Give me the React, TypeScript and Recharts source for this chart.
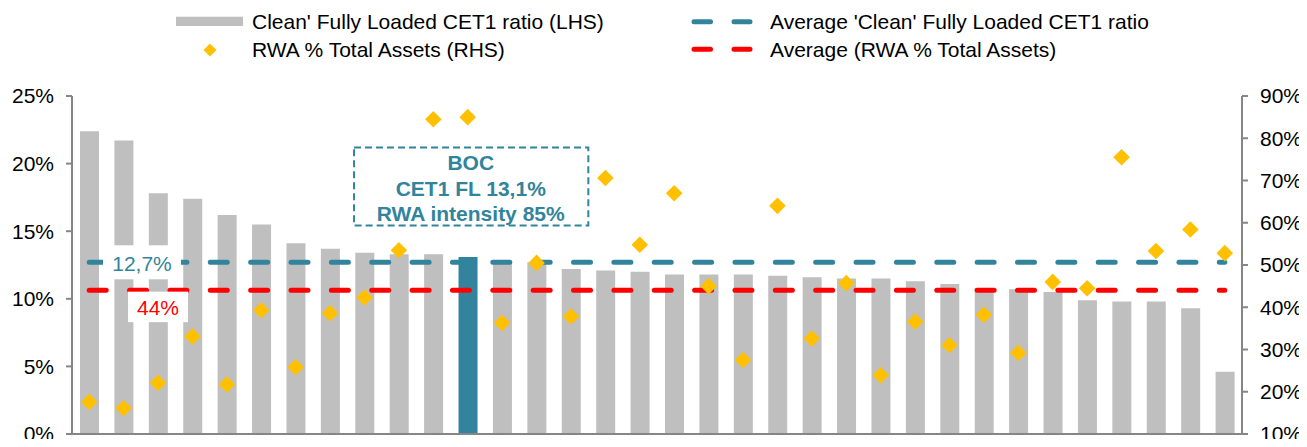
import { Bar, Cell, ComposedChart, Line, Scatter, XAxis, YAxis } from 'recharts';

// banks sorted by CET1 ratio, BOC highlighted
const banks = [
  'Bank 1', 'Bank 2', 'Bank 3', 'Bank 4', 'Bank 5', 'Bank 6', 'Bank 7', 'Bank 8',
  'Bank 9', 'Bank 10', 'Bank 11', 'BOC', 'Bank 13', 'Bank 14', 'Bank 15', 'Bank 16',
  'Bank 17', 'Bank 18', 'Bank 19', 'Bank 20', 'Bank 21', 'Bank 22', 'Bank 23', 'Bank 24',
  'Bank 25', 'Bank 26', 'Bank 27', 'Bank 28', 'Bank 29', 'Bank 30', 'Bank 31', 'Bank 32',
  'Bank 33', 'Bank 34',
];

const cet1Ratio = [
  22.4, 21.7, 17.8, 17.4, 16.2, 15.5, 14.1, 13.7, 13.4, 13.3, 13.3, 13.1, 12.8, 12.7,
  12.2, 12.1, 12.0, 11.8, 11.8, 11.8, 11.7, 11.6, 11.5, 11.5, 11.3, 11.1, 10.8, 10.7,
  10.5, 9.9, 9.8, 9.8, 9.3, 4.6,
];

const rwaShare = [
  17.6, 16.1, 22.1, 33.1, 21.7, 39.3, 25.8, 38.6, 42.3, 53.5, 84.5, 85.0, 36.3, 50.5,
  37.8, 70.6, 54.8, 67.0, 45.0, 27.5, 64.0, 32.6, 45.7, 23.9, 36.6, 31.0, 38.2, 29.2,
  46.0, 44.5, 75.5, 53.3, 58.4, 52.8,
];

const avgCet1 = 12.7;
const avgRwa = 44;

const leftTicks = [0, 5, 10, 15, 20, 25];
const rightTicks = [10, 20, 30, 40, 50, 60, 70, 80, 90];

const TEAL = '#31849B';
const GREY = '#BFBFBF';
const GOLD = '#FFC000';
const RED = '#FF0000';
const AXIS = '#868686';
const FONT = '"Liberation Sans", Arial, sans-serif';

const rows = banks.map((name, i) => ({
  name,
  cet1: cet1Ratio[i],
  rwa: rwaShare[i],
  avgCet1,
  avgRwa,
  cetTag: i === 2 ? avgCet1 : null,
  rwaTag: i === 2 ? avgRwa : null,
  bocTag: name === 'BOC' ? cet1Ratio[i] : null,
}));

const diamond = (props: any) => {
  const { cx, cy } = props;
  if (cx == null || cy == null) return <g />;
  const r = 8.3;
  return (
    <polygon
      points={`${cx},${cy - r} ${cx + r},${cy} ${cx},${cy + r} ${cx - r},${cy}`}
      fill={GOLD}
    />
  );
};

const cetTagShape = (props: any) => {
  const { cx, cy, payload } = props;
  if (!payload || payload.cetTag == null) return <g />;
  return (
    <g>
      <rect x={cx - 55} y={cy - 17} width={78} height={34} fill="#fff" />
      <text x={cx - 16} y={cy + 1.5} dy="0.355em" textAnchor="middle" fontSize={21} fill={TEAL}>
        12,7%
      </text>
    </g>
  );
};

const rwaTagShape = (props: any) => {
  const { cx, cy, payload } = props;
  if (!payload || payload.rwaTag == null) return <g />;
  return (
    <g>
      <rect x={cx - 30} y={cy + 1.3} width={60} height={30.5} fill="#fff" />
      <text x={cx} y={cy + 16.7} dy="0.355em" textAnchor="middle" fontSize={21} fill={RED}>
        44%
      </text>
    </g>
  );
};

const bocTagShape = (props: any) => {
  const { cx, cy, payload } = props;
  if (!payload || payload.bocTag == null) return <g />;
  const lines = ['BOC', 'CET1 FL 13,1%', 'RWA intensity 85%'];
  return (
    <g>
      <rect
        x={cx - 113.7}
        y={cy - 109.3}
        width={234.3}
        height={78}
        fill="none"
        stroke={TEAL}
        strokeWidth={2}
        strokeDasharray="7 4"
      />
      {lines.map((t, k) => (
        <text
          key={t}
          x={cx + 3}
          y={cy - 94.7 + k * 25.9}
          dy="0.355em"
          textAnchor="middle"
          fontSize={21}
          fontWeight="bold"
          fill={TEAL}
        >
          {t}
        </text>
      ))}
    </g>
  );
};

function TopLegend() {
  const text = { fontSize: 21, fill: '#000' };
  return (
    <svg
      width={1299}
      height={70}
      style={{ position: 'absolute', left: 0, top: 0, pointerEvents: 'none' }}
    >
      <rect x={168} y={8.7} width={67} height={9.3} fill={GREY} />
      <text x={244} y={21.3} {...text}>Clean' Fully Loaded CET1 ratio (LHS)</text>
      <polygon points="202,35.5 208.5,42 202,48.5 195.5,42" fill={GOLD} />
      <text x={244} y={48.7} {...text}>RWA % Total Assets (RHS)</text>

      <line x1={686} y1={13.7} x2={742} y2={13.7} stroke={TEAL} strokeWidth={5}
        strokeLinecap="round" strokeDasharray="16.5 23.5" />
      <text x={762} y={21.3} {...text}>Average 'Clean' Fully Loaded CET1 ratio</text>
      <line x1={686} y1={41.3} x2={742} y2={41.3} stroke={RED} strokeWidth={5}
        strokeLinecap="round" strokeDasharray="16.5 23.5" />
      <text x={762} y={48.7} {...text}>Average (RWA % Total Assets)</text>
    </svg>
  );
}

export default function App() {
  const tick = { fill: '#000', fontSize: 21, fontFamily: FONT };
  const axisLine = { stroke: AXIS, strokeWidth: 2 };
  return (
    <div style={{ position: 'relative', width: 1291, height: 431, fontFamily: FONT }}>
      <ComposedChart
        width={1299}
        height={439}
        data={rows}
        margin={{ top: 88, right: 0, bottom: 8, left: 0 }}
      >
        <XAxis dataKey="name" tick={false} tickLine={false} height={5} axisLine={axisLine} />
        <YAxis
          yAxisId="left"
          width={64}
          domain={[0, 25]}
          ticks={leftTicks}
          interval={0}
          tickFormatter={(v) => `${v}%`}
          tick={tick}
          tickSize={6}
          tickMargin={12}
          axisLine={axisLine}
          tickLine={axisLine}
        />
        <YAxis
          yAxisId="right"
          orientation="right"
          width={65}
          domain={[10, 90]}
          ticks={rightTicks}
          interval={0}
          tickFormatter={(v) => `${v}%`}
          tick={tick}
          tickSize={6}
          tickMargin={12}
          axisLine={axisLine}
          tickLine={axisLine}
        />
        <Bar yAxisId="left" dataKey="cet1" barSize={19} isAnimationActive={false}>
          {rows.map((r) => (
            <Cell key={r.name} fill={r.name === 'BOC' ? TEAL : GREY} />
          ))}
        </Bar>
        <Line
          yAxisId="left"
          dataKey="avgCet1"
          stroke={TEAL}
          strokeWidth={5}
          strokeLinecap="round"
          strokeDasharray="17 23.36"
          dot={false}
          activeDot={false}
          isAnimationActive={false}
        />
        <Line
          yAxisId="right"
          dataKey="avgRwa"
          stroke={RED}
          strokeWidth={5}
          strokeLinecap="round"
          strokeDasharray="17 23.36"
          dot={false}
          activeDot={false}
          isAnimationActive={false}
        />
        <Scatter yAxisId="right" dataKey="rwa" shape={diamond} isAnimationActive={false} />
        <Scatter yAxisId="left" dataKey="cetTag" shape={cetTagShape} isAnimationActive={false} />
        <Scatter yAxisId="right" dataKey="rwaTag" shape={rwaTagShape} isAnimationActive={false} />
        <Scatter yAxisId="left" dataKey="bocTag" shape={bocTagShape} isAnimationActive={false} />
      </ComposedChart>
      <TopLegend />
    </div>
  );
}
